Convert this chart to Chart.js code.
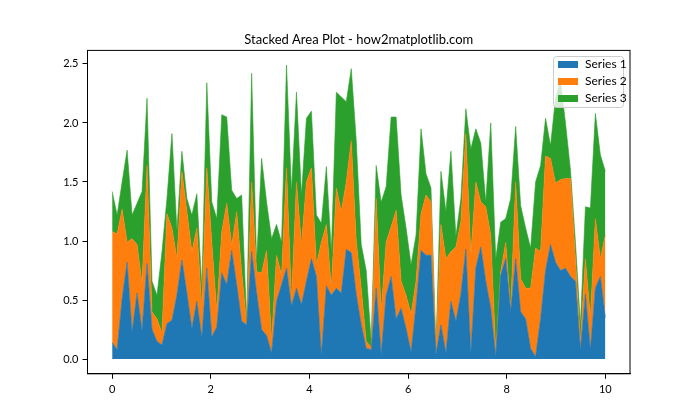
<!DOCTYPE html>
<html>
<head>
<meta charset="utf-8">
<script src="https://cdn.jsdelivr.net/npm/chart.js@4.4.1/dist/chart.umd.min.js"></script>
<style>
  html, body { margin: 0; background: #fff; }
</style>
</head>
<body>
<canvas id="chart" width="700" height="420"></canvas>
<script>
const titleText = 'Stacked Area Plot - how2matplotlib.com';
const seriesNames = ['Series 1', 'Series 2', 'Series 3'];
const seriesColors = ['#1f77b4', '#ff7f0e', '#2ca02c'];
const xTicks = [0, 2, 4, 6, 8, 10];
const yTicks = [0, 0.5, 1.0, 1.5, 2.0, 2.5];

// x = linspace(0, 10, 100)
const xs = Array.from({ length: 100 }, (_, i) => i * 10 / 99);

const series1 = [
    .14, .08, .51, .82, .23, .56, .24, .81, .25, .15,
    .12, .30, .33, .54, .84, .56, .26, .49, .18, .77,
    .19, .27, .73, .63, .92, .63, .32, .29, .91, .56,
    .25, .20, .05, .49, .63, .77, .45, .60, .46, .66,
    .85, .70, .03, .62, .54, .60, .56, .93, .90, .55,
    .29, .09, .08, .60, .04, .54, .70, .34, .43, .26,
    .06, .45, .92, .88, .88, .04, .29, .05, .49, .32,
    .55, .93, .05, .77, .95, .66, .43, .02, .71, .85,
    .40, .85, .40, .34, .09, .02, .34, .75, .97, .82,
    .75, .77, .70, .66, .08, .55, .08, .60, .70, .35
];
const series2 = [
    .94, .98, .76, .17, .79, .41, .40, .83, .15, .19,
    .10, .93, .78, .31, .75, .69, .65, .62, .25, .85,
    .80, .13, .35, .69, .04, .62, .42, .01, .59, .18,
    .48, .72, .11, .39, .08, .85, .05, .90, .51, .84,
    .77, .10, .96, .52, .06, .85, .69, .57, .95, .45,
    .31, .06, .02, .76, .36, .45, .42, .92, .23, .28,
    .32, .21, .31, .51, .45, .03, .85, .80, .42, .63,
    .61, .98, .83, .73, .38, .63, .62, .04, .03, .14,
    .03, .65, .28, .26, .51, .92, .57, .97, .73, .67,
    .77, .76, .83, .19, .07, .30, .27, .59, .15, .70
];
const series3 = [
    .34, .16, .23, .78, .20, .35, .78, .57, .26, .20,
    .69, .13, .80, .24, .17, .11, .31, .29, .17, .72,
    .34, .79, .99, .73, .47, .11, .65, .02, .92, .08,
    .97, .41, .86, .26, .28, .87, .92, .76, .42, .54,
    .48, .42, .16, .49, .31, .81, .97, .68, .61, .85,
    .37, .60, .05, .28, .93, .47, .93, .79, .73, .57,
    .42, .39, .72, .18, .12, .01, .45, .40, .85, .09,
    .20, .21, .90, .45, .50, .04, .95, .79, .42, .20,
    .93, .47, .62, .51, .34, .56, .73, .32, .11, .72,
    .83, .47, .07, .14, .14, .44, .93, .89, .88, .54
];

const FONT = 'Lato';
Chart.defaults.font.family = FONT;
Chart.defaults.color = '#000';

const toPoints = (vals) => vals.map((v, i) => ({ x: xs[i], y: v }));

// frame, title and legend drawn the way matplotlib places them
const decor = {
    id: 'decor',
    afterDraw(chart) {
        const { ctx, chartArea: a } = chart;
        ctx.save();
        ctx.strokeStyle = '#000';
        ctx.lineWidth = 1;
        ctx.strokeRect(a.left, a.top, a.right - a.left, a.bottom - a.top);

        ctx.fillStyle = '#000';
        ctx.font = `13px ${FONT}`;
        ctx.textAlign = 'center';
        ctx.textBaseline = 'alphabetic';
        ctx.fillText(titleText, (a.left + a.right) / 2, a.top - 6);

        const bx = 553.5, by = 56.5, bw = 70, bh = 51;
        ctx.beginPath();
        ctx.roundRect(bx, by, bw, bh, 3);
        ctx.fillStyle = 'rgba(255,255,255,0.8)';
        ctx.fill();
        ctx.strokeStyle = '#cccccc';
        ctx.stroke();
        ctx.font = `12px ${FONT}`;
        ctx.textAlign = 'left';
        ctx.textBaseline = 'middle';
        seriesNames.forEach((name, i) => {
            const cy = 64.5 + i * 17;
            ctx.fillStyle = seriesColors[i];
            ctx.fillRect(558, cy - 3.5, 20, 7);
            ctx.fillStyle = '#000';
            ctx.fillText(name, 585, cy);
        });
        ctx.restore();
    }
};

const series = [series1, series2, series3];

new Chart(document.getElementById('chart'), {
    type: 'line',
    data: {
        datasets: series.map((vals, i) => ({
            label: seriesNames[i],
            data: toPoints(vals),
            backgroundColor: seriesColors[i],
            borderColor: seriesColors[i],
            borderWidth: 0.6,
            pointRadius: 0,
            tension: 0,
            fill: i === 0 ? 'origin' : '-1'
        }))
    },
    options: {
        responsive: false,
        animation: false,
        devicePixelRatio: 1,
        layout: { padding: { top: 50.4, right: 70, left: 0, bottom: 0 } },
        plugins: { legend: { display: false }, title: { display: false }, tooltip: { enabled: false } },
        scales: {
            x: {
                type: 'linear',
                min: -0.5,
                max: 10.5,
                afterBuildTicks: (s) => { s.ticks = xTicks.map(v => ({ value: v })); },
                afterFit: (s) => { s.height = 420 - 373.8; },
                ticks: { callback: (v) => String(v), font: { size: 11 }, padding: 4, maxRotation: 0 },
                grid: { drawOnChartArea: false, color: '#000', tickLength: 5, tickWidth: 1 },
                border: { color: '#000', width: 1 }
            },
            y: {
                stacked: true,
                min: -0.1245,
                max: 2.6145,
                afterBuildTicks: (s) => { s.ticks = yTicks.map(v => ({ value: v })); },
                afterFit: (s) => { s.width = 87.5; },
                ticks: { callback: (v) => v.toFixed(1), font: { size: 11 }, padding: 4 },
                grid: { drawOnChartArea: false, color: '#000', tickLength: 5, tickWidth: 1 },
                border: { color: '#000', width: 1 }
            }
        }
    },
    plugins: [decor]
});
</script>
</body>
</html>
